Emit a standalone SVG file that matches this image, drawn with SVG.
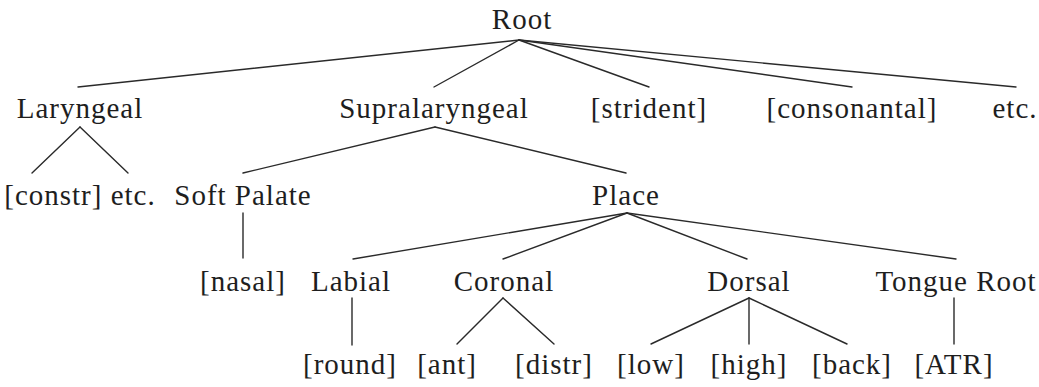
<svg xmlns="http://www.w3.org/2000/svg" width="1039" height="387" viewBox="0 0 1039 387">
  <style>
    text { font-family: "Liberation Serif", "Times New Roman", serif; font-size: 29px; letter-spacing: 1px; fill: #1e1e1e; text-anchor: middle; }
    .edge { stroke: #2a2a2a; stroke-width: 1.4; fill: none; stroke-linecap: round; }
  </style>
  <rect width="1039" height="387" fill="#ffffff"/>

  <!-- feature-geometry branches -->
  <g id="connectors">
    <!-- Root -->
    <line class="edge" x1="519" y1="40" x2="78" y2="87"/>
    <line class="edge" x1="519" y1="40" x2="434" y2="87"/>
    <line class="edge" x1="519" y1="40" x2="649" y2="87"/>
    <line class="edge" x1="519" y1="40" x2="852" y2="87"/>
    <line class="edge" x1="519" y1="40" x2="1016" y2="87"/>
    <!-- Laryngeal -->
    <line class="edge" x1="80" y1="127" x2="32" y2="173"/>
    <line class="edge" x1="80" y1="127" x2="128" y2="173"/>
    <!-- Supralaryngeal -->
    <line class="edge" x1="435" y1="127" x2="243" y2="173"/>
    <line class="edge" x1="435" y1="127" x2="626" y2="173"/>
    <!-- Soft Palate -->
    <line class="edge" x1="243" y1="213" x2="243" y2="258"/>
    <!-- Place -->
    <line class="edge" x1="627" y1="213" x2="353" y2="259"/>
    <line class="edge" x1="627" y1="213" x2="503" y2="259"/>
    <line class="edge" x1="627" y1="213" x2="747" y2="259"/>
    <line class="edge" x1="627" y1="213" x2="956" y2="259"/>
    <!-- Labial -->
    <line class="edge" x1="352" y1="298" x2="352" y2="345"/>
    <!-- Coronal -->
    <line class="edge" x1="503" y1="298" x2="457" y2="344"/>
    <line class="edge" x1="503" y1="298" x2="554" y2="344"/>
    <!-- Dorsal -->
    <line class="edge" x1="749" y1="298" x2="651" y2="344"/>
    <line class="edge" x1="749" y1="298" x2="749" y2="344"/>
    <line class="edge" x1="749" y1="298" x2="847" y2="344"/>
    <!-- Tongue Root -->
    <line class="edge" x1="954" y1="298" x2="954" y2="344"/>
  </g>

  <g id="root"><text x="522" y="29">Root</text></g>

  <g id="laryngeal"><text x="80" y="118">Laryngeal</text></g>
  <g id="supralaryngeal"><text x="434" y="118">Supralaryngeal</text></g>
  <g id="strident"><text x="649" y="118">[strident]</text></g>
  <g id="consonantal"><text x="852" y="118">[consonantal]</text></g>
  <g id="root-etc"><text x="1015" y="118">etc.</text></g>

  <g id="constr"><text x="80" y="205">[constr] etc.</text></g>
  <g id="soft-palate"><text x="243" y="205">Soft Palate</text></g>
  <g id="place"><text x="626" y="205">Place</text></g>

  <g id="nasal"><text x="243" y="291">[nasal]</text></g>
  <g id="labial"><text x="351" y="291">Labial</text></g>
  <g id="coronal"><text x="504" y="291">Coronal</text></g>
  <g id="dorsal"><text x="749" y="291">Dorsal</text></g>
  <g id="tongue-root"><text x="956" y="291">Tongue Root</text></g>

  <g id="round"><text x="350" y="374">[round]</text></g>
  <g id="ant"><text x="447" y="374">[ant]</text></g>
  <g id="distr"><text x="554" y="374">[distr]</text></g>
  <g id="low"><text x="651" y="374">[low]</text></g>
  <g id="high"><text x="749" y="374">[high]</text></g>
  <g id="back"><text x="852" y="374">[back]</text></g>
  <g id="atr"><text x="954" y="374">[ATR]</text></g>
</svg>
